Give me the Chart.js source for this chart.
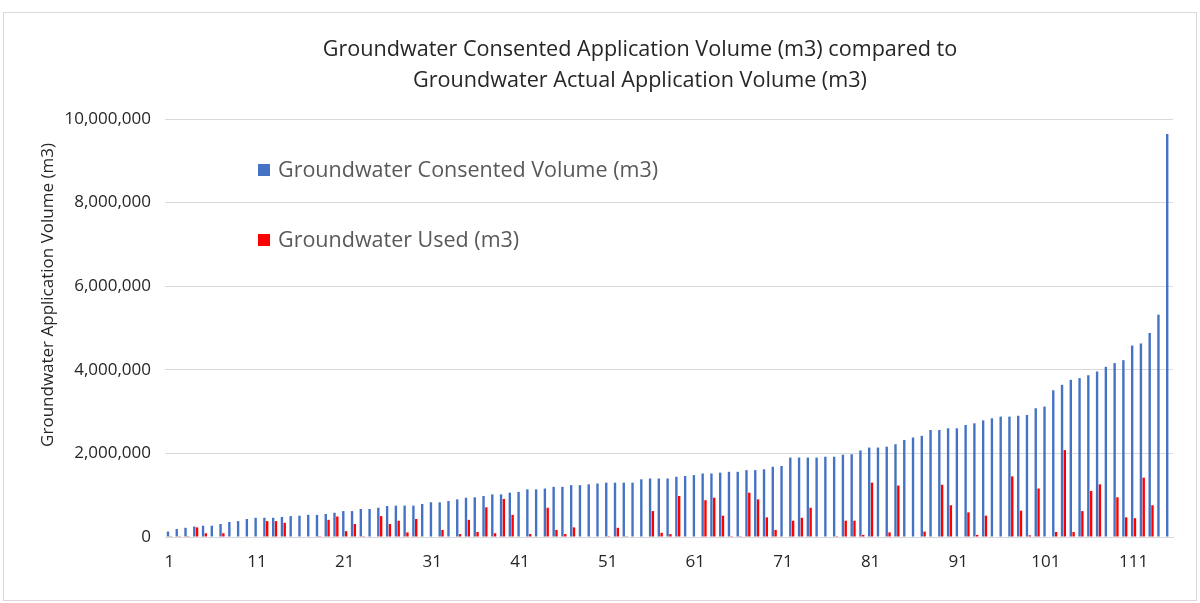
<!DOCTYPE html>
<html>
<head>
<meta charset="utf-8">
<script src="https://cdn.jsdelivr.net/npm/chart.js@4/dist/chart.umd.min.js"></script>
<style>
  html, body { margin: 0; padding: 0; background: #fff; }
  #wrap { position: relative; width: 1200px; height: 603px; }
</style>
</head>
<body>
<div id="wrap"><canvas id="gw-chart" width="1200" height="603"></canvas></div>
<script>
// Chart data
// ------------------------------
var titleLines = ["Groundwater Consented Application Volume (m3) compared to", "Groundwater Actual Application Volume (m3)"];
var yTitle = "Groundwater Application Volume (m3)";
var seriesNames = ["Groundwater Consented Volume (m3)", "Groundwater Used (m3)"];
var yTicks = [0, 2000000, 4000000, 6000000, 8000000, 10000000];

var consented = [
  130000, 190000, 220000, 250000, 270000, 270000, 310000, 360000, 380000, 430000,
  460000, 460000, 460000, 480000, 500000, 510000, 530000, 530000, 550000, 580000,
  620000, 620000, 670000, 670000, 700000, 740000, 750000, 750000, 750000, 790000,
  830000, 830000, 860000, 900000, 940000, 950000, 980000, 1020000, 1020000, 1060000,
  1080000, 1140000, 1140000, 1160000, 1200000, 1200000, 1240000, 1240000, 1260000, 1280000,
  1300000, 1300000, 1300000, 1300000, 1380000, 1400000, 1400000, 1400000, 1440000, 1460000,
  1480000, 1520000, 1520000, 1540000, 1560000, 1560000, 1600000, 1600000, 1620000, 1680000,
  1700000, 1900000, 1900000, 1900000, 1900000, 1920000, 1920000, 1970000, 1980000, 2070000,
  2140000, 2140000, 2160000, 2220000, 2320000, 2380000, 2420000, 2560000, 2560000, 2600000,
  2600000, 2680000, 2720000, 2790000, 2840000, 2880000, 2880000, 2900000, 2920000, 3080000,
  3120000, 3510000, 3640000, 3760000, 3800000, 3870000, 3960000, 4070000, 4160000, 4230000,
  4580000, 4630000, 4880000, 5320000, 9640000
];

var used = [
  20000, 20000, 20000, 230000, 90000, 0, 90000, 0, 0, 0,
  0, 380000, 380000, 340000, 0, 0, 0, 20000, 410000, 490000,
  140000, 310000, 20000, 0, 500000, 310000, 390000, 110000, 430000, 0,
  0, 170000, 0, 70000, 410000, 120000, 710000, 90000, 910000, 530000,
  0, 70000, 0, 700000, 170000, 70000, 230000, 0, 0, 0,
  20000, 220000, 20000, 0, 0, 620000, 100000, 70000, 980000, 0,
  0, 880000, 940000, 510000, 20000, 20000, 1060000, 900000, 470000, 170000,
  0, 390000, 460000, 700000, 0, 0, 20000, 390000, 390000, 50000,
  1300000, 0, 110000, 1230000, 0, 0, 130000, 0, 1250000, 760000,
  0, 590000, 50000, 510000, 0, 0, 1450000, 630000, 40000, 1160000,
  0, 120000, 2080000, 120000, 620000, 1100000, 1260000, 0, 950000, 470000,
  450000, 1420000, 760000, 0, 0
];

var categories = [];
for (var i = 1; i <= consented.length; i++) { categories.push(String(i)); }

// frame, titles and in-plot legend (drawn by hand so they sit where Excel put them)
var framePlugin = {
  id: "frame",
  beforeDraw: function (chart) {
    var c = chart.ctx;
    c.save();
    c.fillStyle = "#ffffff";
    c.fillRect(0, 0, chart.width, chart.height);
    c.strokeStyle = "#d9d9d9";
    c.lineWidth = 1;
    c.strokeRect(3.5, 12.5, 1193, 588);
    c.restore();
  },
  afterDraw: function (chart) {
    var c = chart.ctx;
    c.save();

    // chart title
    c.fillStyle = "#262626";
    c.font = "21.6px 'Open Sans', sans-serif";
    c.textAlign = "center";
    c.textBaseline = "middle";
    titleLines.forEach(function (t, k) { c.fillText(t, 640, 50 + k * 31); });

    // y axis title
    c.save();
    c.translate(48, 295);
    c.rotate(-Math.PI / 2);
    c.font = "17px 'Open Sans', sans-serif";
    c.fillText(yTitle, 0, 0);
    c.restore();

    // legend
    var rows = [170, 240];
    c.font = "21.5px 'Open Sans', sans-serif";
    c.textAlign = "left";
    chart.data.datasets.forEach(function (ds, k) {
      c.fillStyle = ds.backgroundColor;
      c.fillRect(258, rows[k] - 6, 12, 12);
      c.fillStyle = "#595959";
      c.fillText(ds.label, 278, rows[k] + 1);
    });
    c.restore();
  }
};

var ctx = document.getElementById("gw-chart");

var chartData = {
  labels: categories,
  datasets: [{
    label: seriesNames[0],
    data: consented,
    backgroundColor: "#4472C4",
    categoryPercentage: 0.64,
    barPercentage: 0.85
  }, {
    label: seriesNames[1],
    data: used,
    backgroundColor: "#FF0000",
    categoryPercentage: 0.64,
    barPercentage: 0.85
  }]
};

var chartOptions = {
  responsive: false,
  animation: false,
  layout: { padding: { top: 119, right: 27, bottom: 0, left: 0 } },
  plugins: {
    legend: { display: false },
    tooltip: { enabled: false },
    title: { display: false }
  },
  scales: {
    x: {
      grid: { display: false, drawTicks: false },
      border: { display: true, color: "#d9d9d9" },
      ticks: {
        autoSkip: false,
        maxRotation: 0,
        padding: 15,
        color: "#262626",
        font: { family: "'Open Sans', sans-serif", size: 17 },
        callback: function (v, idx) { return idx % 10 === 0 ? categories[idx] : ""; }
      },
      afterFit: function (scale) { scale.height = 66; }
    },
    y: {
      min: 0,
      max: 10000000,
      afterBuildTicks: function (scale) {
        scale.ticks = yTicks.map(function (v) { return { value: v }; });
      },
      grid: { color: "#d9d9d9", drawTicks: false },
      border: { display: false },
      ticks: {
        padding: 14,
        color: "#262626",
        font: { family: "'Open Sans', sans-serif", size: 17 },
        callback: function (v) { return Number(v).toLocaleString("en-US"); }
      },
      afterFit: function (scale) { scale.width = 165; }
    }
  }
};

var config = {
  type: "bar",
  data: chartData,
  options: chartOptions,
  plugins: [framePlugin]
};

var gwChart = new Chart(ctx, config);
</script>
</body>
</html>
